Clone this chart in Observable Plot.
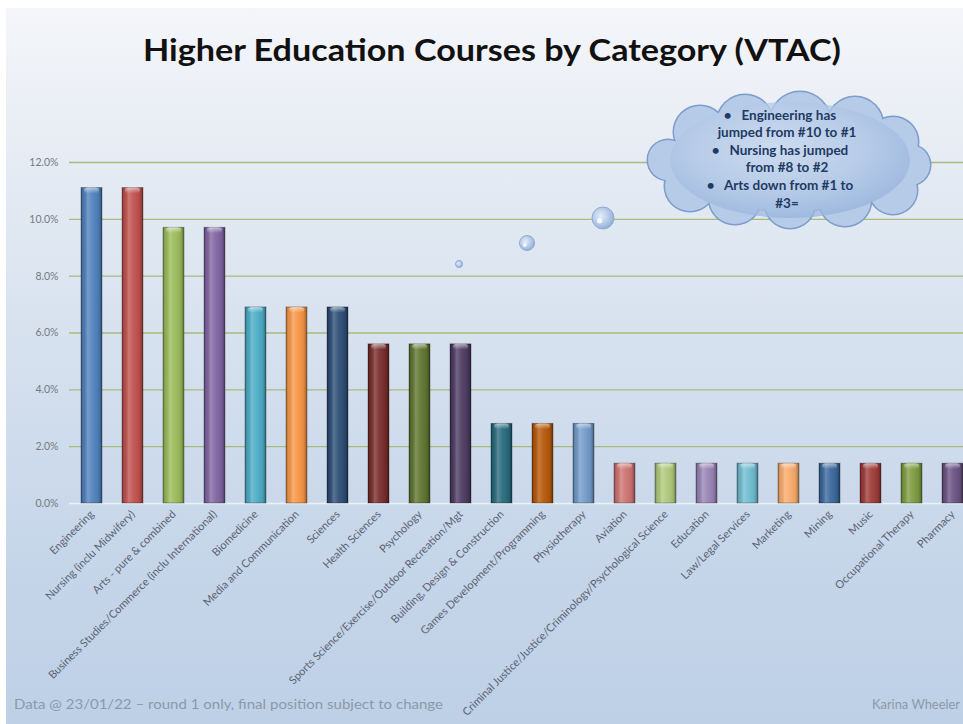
<!DOCTYPE html>
<html>
<head>
<meta charset="utf-8">
<script src="https://cdn.jsdelivr.net/npm/d3@7"></script>
<script src="https://cdn.jsdelivr.net/npm/@observablehq/plot@0.6"></script>
<style>
  html, body { margin: 0; padding: 0; background: #ffffff; }
  #wrap { position: relative; width: 963px; height: 724px; overflow: hidden; background: #ffffff; }
  #bg { position: absolute; left: 6px; top: 8px; right: 0; bottom: 0;
        background: linear-gradient(to bottom, #f4f6fa 0%, #edf0f6 11%, #e3eaf3 25%, #d5e0ee 50%, #c8d7ea 72%, #bdd0e6 100%); }
  #chart { position: absolute; left: 0; top: 0; }
  #overlay { position: absolute; left: 0; top: 0; }
</style>
</head>
<body>
<div id="wrap">
  <div id="bg"></div>
  <div id="chart"></div>
  <svg id="overlay" width="963" height="724"></svg>
</div>
<script>
// ---- data ----
const categories = [
  "Engineering",
  "Nursing (inclu Midwifery)",
  "Arts - pure & combined",
  "Business Studies/Commerce (inclu International)",
  "Biomedicine",
  "Media and Communication",
  "Sciences",
  "Health Sciences",
  "Psychology",
  "Sports Science/Exercise/Outdoor Recreation/Mgt",
  "Building, Design & Construction",
  "Games Development/Programming",
  "Physiotherapy",
  "Aviation",
  "Criminal Justice/Justice/Criminology/Psychological Science",
  "Education",
  "Law/Legal Services",
  "Marketing",
  "Mining",
  "Music",
  "Occupational Therapy",
  "Pharmacy"
];
const values = [11.1, 11.1, 9.7, 9.7, 6.9, 6.9, 6.9, 5.6, 5.6, 5.6, 2.8, 2.8, 2.8,
                1.4, 1.4, 1.4, 1.4, 1.4, 1.4, 1.4, 1.4, 1.4];
const yTicks = [0, 2, 4, 6, 8, 10, 12];
const palette = ["#4f81bd", "#c0504d", "#9bbb59", "#8064a2", "#4bacc6", "#f79646",
                 "#2c4d75", "#772c2a", "#5f7530", "#4d3b62", "#276a7c", "#b65708",
                 "#729aca", "#cd7371", "#afc97a", "#9983b5", "#6fbdd1", "#f9ab6b",
                 "#3a679c", "#9e3b38", "#7e9c40", "#6a5283"];
const titleText = "Higher Education Courses by Category (VTAC)";
const calloutLines = ["\u2022\u00a0\u00a0\u00a0Engineering has", "jumped from #10 to #1",
                      "\u2022\u00a0\u00a0\u00a0Nursing has jumped", "from #8 to #2",
                      "\u2022\u00a0\u00a0\u00a0Arts down from #1 to", "#3="];
const footerLeft = "Data @ 23/01/22 \u2013 round 1 only, final position subject to change";
const footerRight = "Karina Wheeler";

const data = categories.map((c, i) => ({category: c, value: values[i]}));

// ---- defs (gradients) ----
const ov = d3.select("#overlay");
const defs = ov.append("defs");
const bs = defs.append("linearGradient").attr("id", "barShade").attr("x1", 0).attr("x2", 1).attr("y1", 0).attr("y2", 0);
[[0, "#000", 0.35], [0.1, "#000", 0.08], [0.32, "#fff", 0.22], [0.55, "#fff", 0.06], [0.85, "#000", 0.08], [1, "#000", 0.4]]
  .forEach(([o, c, a]) => bs.append("stop").attr("offset", o).attr("stop-color", c).attr("stop-opacity", a));
const cs = defs.append("linearGradient").attr("id", "capShade").attr("x1", 0).attr("x2", 0).attr("y1", 0).attr("y2", 1);
[[0, "#fff", 0.55], [1, "#fff", 0.0]].forEach(([o, c, a]) => cs.append("stop").attr("offset", o).attr("stop-color", c).attr("stop-opacity", a));
const cf = defs.append("radialGradient").attr("id", "cloudFill").attr("cx", "45%").attr("cy", "40%").attr("r", "65%");
[[0, "#d3e1f2"], [0.55, "#b8cce8"], [1, "#92b0da"]].forEach(([o, c]) => cf.append("stop").attr("offset", o).attr("stop-color", c));
const bf = defs.append("radialGradient").attr("id", "bubbleFill").attr("cx", "40%").attr("cy", "40%").attr("r", "65%");
[[0, "#e4edf8"], [0.6, "#b3c8e6"], [1, "#8eabd6"]].forEach(([o, c]) => bf.append("stop").attr("offset", o).attr("stop-color", c));

// ---- chart ----
const chart = Plot.plot({
  width: 963,
  height: 724,
  marginTop: 162,
  marginBottom: 221,
  marginLeft: 69,
  marginRight: 0,
  style: {background: "transparent", fontFamily: "Lato, 'Open Sans', sans-serif", overflow: "hidden"},
  x: {domain: categories, range: [69.4, 975.6], paddingInner: 0.48, paddingOuter: 0.24, axis: null},
  y: {domain: [0, 12], axis: null},
  color: {type: "ordinal", domain: categories, range: palette},
  marks: [
    Plot.gridY(yTicks.filter(d => d > 0), {stroke: "#a9ba7c", strokeOpacity: 1, strokeWidth: 1.4}),
    Plot.ruleY([0], {stroke: "#edf2f8", strokeWidth: 1.5}),
    Plot.axisY(yTicks, {tickSize: 0, tickPadding: 11, tickFormat: d => d.toFixed(1) + "%", fontSize: 10.5, fill: "#757a84", label: null}),
    Plot.barY(data, {x: "category", y: "value", fill: "category"}),
    Plot.barY(data, {x: "category", y: "value", fill: "url(#barShade)", stroke: "#000", strokeOpacity: 0.3, strokeWidth: 1}),
    Plot.barY(data, {x: "category", y1: d => d.value - 0.2, y2: "value", fill: "url(#capShade)", insetLeft: 3, insetRight: 3, rx: 4}),
    Plot.axisX({tickSize: 0, tickPadding: 9, tickRotate: -45, fontSize: 11, fill: "#5c6372", label: null})
  ]
});
document.getElementById("chart").appendChild(chart);

// ---- overlay annotations ----
ov.append("text").attr("x", 143).attr("y", 61).attr("font-family", "Lato, sans-serif").attr("font-weight", "bold")
  .attr("font-size", 31).attr("fill", "#111").attr("textLength", 698).attr("lengthAdjust", "spacingAndGlyphs").text(titleText);

// cloud callout
const cloudCircles = [
  [700, 132, 26], [745, 123, 28], [800, 122, 30], [855, 125, 28], [893, 142, 25], [910, 165, 20],
  [893, 190, 24], [845, 200, 26], [790, 203, 25], [735, 198, 26], [690, 186, 25], [668, 160, 20]
];
const cloud = ov.append("g");
cloudCircles.forEach(([x, y, r]) => cloud.append("circle").attr("cx", x).attr("cy", y).attr("r", r + 1.5).attr("fill", "#7e9ccb"));
cloud.append("ellipse").attr("cx", 790).attr("cy", 162).attr("rx", 116).attr("ry", 50).attr("fill", "#7e9ccb");
const inner = ov.append("g");
cloudCircles.forEach(([x, y, r]) => inner.append("circle").attr("cx", x).attr("cy", y).attr("r", r).attr("fill", "#b6cbe8"));
inner.append("ellipse").attr("cx", 790).attr("cy", 162).attr("rx", 115).attr("ry", 49).attr("fill", "#b6cbe8");
ov.append("ellipse").attr("cx", 790).attr("cy", 160).attr("rx", 120).attr("ry", 58).attr("fill", "url(#cloudFill)").attr("opacity", 0.75);

const lineCenters = [780, 787, 780, 787, 780, 787];
calloutLines.forEach((t, i) => {
  ov.append("text").attr("x", lineCenters[i]).attr("y", 119.5 + i * 17.6).attr("text-anchor", "middle")
    .attr("font-family", "Lato, sans-serif").attr("font-weight", "bold").attr("font-size", 13.5)
    .attr("fill", "#1f3a63").text(t);
});

// thought bubbles
[[603, 218, 11], [527, 243, 7.5], [459, 264, 3.5]].forEach(([x, y, r]) => {
  ov.append("circle").attr("cx", x).attr("cy", y).attr("r", r).attr("fill", "url(#bubbleFill)").attr("stroke", "#8eaad4").attr("stroke-width", 1);
  if (r > 5) ov.append("circle").attr("cx", x - r * 0.3).attr("cy", y + r * 0.25).attr("r", r * 0.25).attr("fill", "#ffffff").attr("opacity", 0.8);
});

// footer
ov.append("text").attr("x", 14).attr("y", 709).attr("font-family", "Lato, sans-serif").attr("font-size", 13)
  .attr("fill", "#8d99aa").attr("textLength", 429).attr("lengthAdjust", "spacingAndGlyphs").text(footerLeft);
ov.append("text").attr("x", 872).attr("y", 709).attr("font-family", "Lato, sans-serif").attr("font-size", 13)
  .attr("fill", "#8d99aa").attr("textLength", 88).attr("lengthAdjust", "spacingAndGlyphs").text(footerRight);
</script>
</body>
</html>
